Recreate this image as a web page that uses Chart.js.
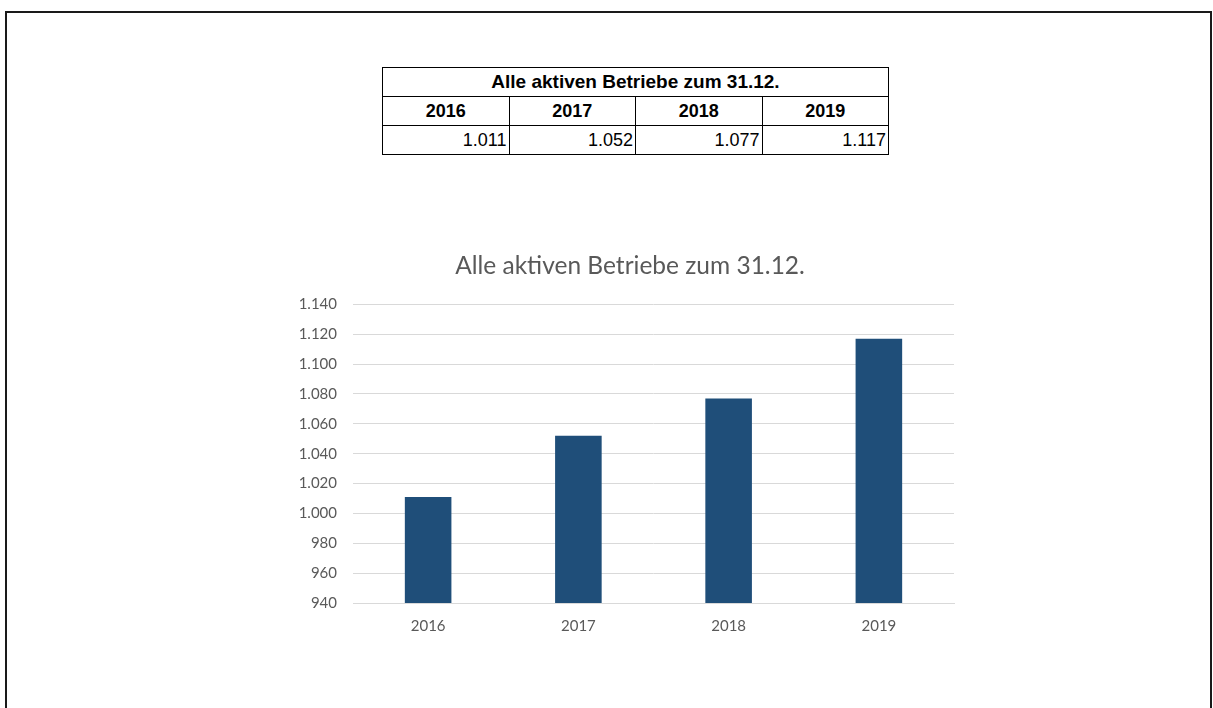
<!DOCTYPE html>
<html>
<head>
<meta charset="utf-8">
<script src="https://cdn.jsdelivr.net/npm/chart.js@4"></script>
<style>
    body { margin: 0; background: #fff; width: 1213px; height: 708px; overflow: hidden; position: relative; }
    .frame { position: absolute; left: 5px; top: 11px; width: 1203px; height: 720px; border: 2px solid #1a1a1a; border-bottom: none; }
    table { position: absolute; left: 382px; top: 67px; width: 507px; table-layout: fixed; border-collapse: collapse; font-family: "Liberation Sans", Arial, sans-serif; font-size: 18px; color: #000; }
    td { border: 1px solid #000; height: 28px; padding: 0 2px; line-height: 20px; }
    td.head { font-weight: bold; text-align: center; }
    td.big { font-size: 19px; }
    td.num { text-align: right; }
    .wrap { position: absolute; left: 280px; top: 240px; width: 700px; height: 410px; }
</style>
</head>
<body>
<div class="frame"></div>
<table id="tbl"></table>
<div class="wrap"><canvas id="barChart"></canvas></div>
<script>
const title = 'Alle aktiven Betriebe zum 31.12.';
const years = ['2016', '2017', '2018', '2019'];
const betriebe = [1011, 1052, 1077, 1117];
const yMin = 940;
const yMax = 1140;
const yStep = 20;

const fmt = (v) => v.toLocaleString('de-DE');

// table above the chart
const tbl = document.getElementById('tbl');
let html = '<tr><td class="head big" colspan="' + years.length + '">' + title + '</td></tr><tr>';
years.forEach(y => { html += '<td class="head">' + y + '</td>'; });
html += '</tr><tr>';
betriebe.forEach(v => { html += '<td class="num">' + fmt(v) + '</td>'; });
html += '</tr>';
tbl.innerHTML = html;

const grey = '#595959';

const chart = new Chart(document.getElementById('barChart').getContext('2d'), {
    type: 'bar',
    data: {
        labels: years,
        datasets: [{
            label: title,
            backgroundColor: '#1f4e79',
            borderColor: '#1f4e79',
            data: betriebe,
            barPercentage: 0.31,
            categoryPercentage: 1.0
        }]
    },
    options: {
        responsive: true,
        maintainAspectRatio: false,
        animation: false,
        layout: { padding: 0 },
        plugins: {
            legend: { display: false },
            tooltip: { enabled: false },
            title: {
                display: true,
                text: title,
                color: grey,
                font: { family: 'Lato', size: 24.5, weight: 'normal' },
                padding: { top: 11, bottom: 24 }
            }
        },
        scales: {
            x: {
                grid: { display: false, drawTicks: false },
                border: { display: true, color: '#d9d9d9', width: 1 },
                ticks: { color: grey, font: { family: 'Lato', size: 15 }, padding: 14 },
                afterFit: (scale) => { scale.height = 47; }
            },
            y: {
                min: yMin,
                max: yMax,
                grid: { color: '#d9d9d9', lineWidth: 1, drawTicks: false },
                border: { display: false },
                ticks: {
                    stepSize: yStep,
                    color: grey,
                    font: { family: 'Lato', size: 15 },
                    padding: 16,
                    callback: (v) => fmt(v)
                },
                afterFit: (scale) => { scale.width = 73; }
            },
            // empty space on the right so the title stays centred on the whole chart
            spacer: {
                type: 'linear',
                position: 'right',
                grid: { display: false, drawTicks: false },
                border: { display: false },
                ticks: { display: false },
                afterFit: (scale) => { scale.width = 26; }
            }
        }
    }
});
</script>
</body>
</html>
